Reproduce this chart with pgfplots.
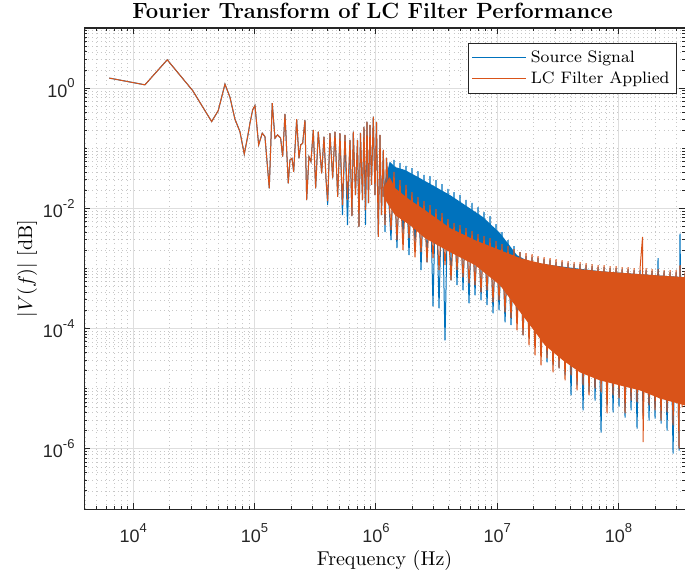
\documentclass[border=0pt]{standalone}
\usepackage{fontspec}
\usepackage{pgfplots}
\pgfplotsset{compat=1.18}
\newfontfamily\tickfont{Liberation Sans}
\definecolor{mblue}{RGB}{0,114,189}
\definecolor{morange}{RGB}{217,83,25}
\newcommand{\tp}[1]{10\raisebox{4.6pt}{\fontsize{6.5}{7}\selectfont #1}}
\begin{document}
\begin{tikzpicture}
\begin{axis}[
 xmode=log, ymode=log,
 scale only axis, width=300.5pt, height=240.5pt,
 xmin=3.93e3, xmax=3.53e8, ymin=1e-7, ymax=10,
 xtick={1e4,1e5,1e6,1e7,1e8},
 xticklabels={\tp{4},\tp{5},\tp{6},\tp{7},\tp{8}},
 ytick={1e-6,1e-4,1e-2,1},
 yticklabels={\tp{-6},\tp{-4},\tp{-2},\tp{0}},
 minor xtick={4e3,5e3,6e3,7e3,8e3,9e3,2e4,3e4,4e4,5e4,6e4,7e4,8e4,9e4,2e5,3e5,4e5,5e5,6e5,7e5,8e5,9e5,2e6,3e6,4e6,5e6,6e6,7e6,8e6,9e6,2e7,3e7,4e7,5e7,6e7,7e7,8e7,9e7,2e8,3e8},
 minor ytick={2e-7,3e-7,4e-7,5e-7,6e-7,7e-7,8e-7,9e-7,2e-6,3e-6,4e-6,5e-6,6e-6,7e-6,8e-6,9e-6,1e-5,2e-5,3e-5,4e-5,5e-5,6e-5,7e-5,8e-5,9e-5,2e-4,3e-4,4e-4,5e-4,6e-4,7e-4,8e-4,9e-4,1e-3,2e-3,3e-3,4e-3,5e-3,6e-3,7e-3,8e-3,9e-3,2e-2,3e-2,4e-2,5e-2,6e-2,7e-2,8e-2,9e-2,1e-1,2e-1,3e-1,4e-1,5e-1,6e-1,7e-1,8e-1,9e-1,2,3,4,5,6,7,8,9},
 grid=both,
 major grid style={black!13, line width=0.5pt},
 minor grid style={black!22, dash pattern=on 0.5pt off 1.6pt, line width=0.35pt},
 axis line style={black!85, line width=0.5pt},
 every tick/.style={black!85, line width=0.5pt},
 major tick length=3pt, minor tick length=1.6pt,
 tick align=inside,
 ticklabel style={font=\tickfont\fontsize{9}{11}\selectfont, text=black!85},
 xticklabel style={anchor=base, yshift=-16.5pt},
 yticklabel style={xshift=-1.2pt},
 title={Fourier Transform of LC Filter Performance},
 title style={at={(rel axis cs:0.48,1)}, anchor=base, yshift=-1.15pt, font=\bfseries\fontsize{11}{13}\selectfont},
 xlabel={Frequency (Hz)},
 xlabel style={at={(rel axis cs:0.5,0)}, anchor=base, yshift=-28.4pt, font=\normalsize},
 ylabel={$|V(f)|$ [dB]},
 ylabel style={at={(rel axis cs:-0.0948,0.5)}, anchor=center, font=\normalsize},
 legend cell align=left,
 legend style={at={(rel axis cs:1,1)}, anchor=north east, xshift=-4pt, yshift=-7.5pt, draw=black!85, line width=0.5pt, font=\fontsize{8.3}{10}\selectfont, inner sep=1.5pt, row sep=-1pt},
 legend image code/.code={\draw[#1] (0cm,0cm) -- (0.95cm,0cm);},
]
\coordinate (bbSW) at (rel axis cs:-0.13977,-0.14137);
\coordinate (bbNE) at (rel axis cs:1,1.05821);

% Source Signal: dense core band
\addplot[fill=mblue, draw=none, forget plot] coordinates {
(1.15e6,0.022)(1.30e6,0.06)(1.437e6,0.0488)(1.738e6,0.0435)(2.224e6,0.0332)(4.082e6,0.01666)(7.638e6,7.16e-3)(1.055e7,3.88e-3)(1.456e7,1.667e-3)(1.864e7,1.274e-3)(3.763e7,1.051e-3)(7.039e7,9.02e-4)(1.504e8,8.04e-4)(3.533e8,7.16e-4)
(3.533e8,5.5e-6)(2.199e8,7.2e-6)(1.504e8,9.8e-6)(1.029e8,1.2e-5)(7.039e7,1.45e-5)(4.815e7,1.95e-5)(3.487e7,3.1e-5)(2.477e7,5.5e-5)(1.864e7,1.2e-4)(1.402e7,2.55e-4)(1.055e7,5.5e-4)(6.561e6,1.2e-3)(4.082e6,1.95e-3)(2.540e6,3.3e-3)(1.910e6,5.4e-3)(1.437e6,7.9e-3)(1.30e6,0.011)(1.15e6,0.016)
};
% Source Signal
\addplot[mblue, line width=0.5pt] coordinates {
(6340,1.47)(12490,1.135)(19070,2.96)(30880,0.912)(44290,0.278)(50210,0.423)(57020,1.166)(62680,0.708)(68930,0.304)(75780,0.189)(82270,0.080)(87730,0.156)(91650,0.261)(96450,0.435)(100770,0.513)(108100,0.1135)(115700,0.178)(121800,0.156)(132200,0.0215)(139900,0.562)(147300,0.147)(155000,0.167)(164100,0.147)(170500,0.0724)(178100,0.373)(189600,0.0261)(195800,0.0638)(203400,0.0681)(210100,0.0407)(222400,0.304)(232300,0.0681)(239900,0.1135)(249200,0.121)(260300,0.296)(268900,0.01375)(280800,0.0724)(291700,0.0598)(304700,0.202)(318900,0.0215)(335100,0.189)(357400,0.0383)(373400,0.156)(387800,0.0316)(400500,0.01135)(418400,0.178)(440400,0.0316)(460100,0.189)(484300,0.0156)(505800,0.178)(530400,0.00773)(556300,0.167)(583300,0.00527)(611600,0.138)(635300,0.00744)(651100,0.189)(678900,0.01666)(705200,0.138)(725500,0.00493)(746500,0.180)(775300,0.01375)(797700,0.226)(820800,0.00527)(844500,0.278)(869000,0.01226)(894100,0.245)(920000,0.0245)(952000,0.336)(983100,0.01666)(1011400,0.274)(1046600,0.00336)(1081000,0.167)(1112000,0.00773)(1151000,0.0937)(1189000,0.00403)(1223000,0.0689)
(1.332e6,2.96e-3)(1.410e6,0.0638)(1.492e6,2.18e-3)(1.580e6,0.0569)(1.673e6,3.59e-3)(1.771e6,0.0507)(1.875e6,1.67e-3)(1.984e6,0.0469)(2.101e6,2.45e-3)(2.223e6,0.0418)(2.354e6,9.37e-4)(2.492e6,0.0359)(2.638e6,1.27e-3)(2.792e6,0.0345)(2.956e6,2.35e-4)(3.129e6,0.0296)(3.313e6,2.18e-4)(3.507e6,0.0254)(3.712e6,6.38e-5)(3.929e6,0.0210)(4.160e6,6.38e-4)(4.404e6,0.0187)(4.662e6,5.27e-4)(4.935e6,0.0167)(5.224e6,4.35e-4)(5.530e6,0.0138)(5.855e6,2.64e-4)(6.198e6,0.0123)(6.561e6,3.59e-4)(6.946e6,0.0105)(7.353e6,2.96e-4)(7.783e6,8.68e-3)(8.240e6,2.45e-4)(8.722e6,7.44e-3)(9.234e6,1.80e-4)(9.772e6,5.47e-3)(1.035e7,2.02e-4)(1.095e7,4.03e-3)(1.160e7,1.27e-4)(1.227e7,2.96e-3)(1.299e7,1.14e-4)(1.375e7,2.35e-3)(1.456e7,1.38e-4)(1.541e7,1.87e-3)(1.632e7,7.73e-5)(1.727e7,1.60e-3)(1.829e7,6.89e-5)(1.936e7,1.54e-3)(2.049e7,5.27e-5)(2.169e7,1.49e-3)(2.296e7,4.70e-5)(2.431e7,1.43e-3)(2.573e7,2.74e-5)(2.724e7,1.38e-3)(2.884e7,2.45e-5)(3.053e7,1.27e-3)(3.232e7,2.18e-5)(3.421e7,1.27e-3)(3.622e7,1.67e-5)(3.834e7,1.23e-3)(4.058e7,7.73e-6)(4.297e7,1.18e-3)(4.548e7,1.14e-5)(4.815e7,1.18e-3)(5.097e7,4.35e-6)(5.395e7,1.14e-3)(5.711e7,8.68e-6)(6.046e7,1.09e-3)(6.401e7,6.38e-6)(6.776e7,1.05e-3)(7.173e7,1.87e-6)(7.593e7,1.05e-3)(8.038e7,5.27e-6)(8.510e7,1.01e-3)(9.008e7,4.03e-6)(9.535e7,1.01e-3)(1.009e8,5.07e-6)(1.069e8,9.73e-4)(1.131e8,3.32e-6)(1.197e8,9.73e-4)(1.268e8,4.35e-6)(1.342e8,9.37e-4)(1.420e8,2.18e-6)(1.504e8,9.37e-4)(1.592e8,3.59e-6)(1.685e8,9.37e-4)(1.784e8,2.96e-6)(1.888e8,9.02e-4)(1.999e8,3.20e-6)(2.116e8,1.49e-3)(2.240e8,2.64e-6)(2.371e8,9.02e-4)(2.510e8,2.02e-6)(2.657e8,8.68e-4)(2.813e8,8.36e-7)(2.978e8,8.68e-4)(3.152e8,9.37e-7)(3.21e8,3.80e-3)(3.337e8,5.69e-6)(3.533e8,8.35e-4)
};
\addlegendentry{Source Signal}

% LC Filter Applied: dense core band
\addplot[fill=morange, draw=none, forget plot] coordinates {
(1.15e6,0.022)(1.30e6,0.033)(1.437e6,0.0218)(1.910e6,0.01375)(2.540e6,9.37e-3)(4.082e6,4.70e-3)(6.561e6,2.96e-3)(1.055e7,2.02e-3)(1.542e7,1.49e-3)(2.253e7,1.23e-3)(3.983e7,1.01e-3)(7.039e7,9.02e-4)(1.504e8,8.04e-4)(3.533e8,7.16e-4)
(3.533e8,5.27e-6)(2.199e8,6.89e-6)(1.504e8,9.37e-6)(1.029e8,1.135e-5)(7.039e7,1.375e-5)(4.815e7,1.87e-5)(3.487e7,2.96e-5)(2.477e7,5.27e-5)(1.864e7,1.14e-4)(1.402e7,2.45e-4)(1.055e7,5.27e-4)(6.561e6,1.14e-3)(4.082e6,1.87e-3)(2.540e6,3.20e-3)(1.910e6,5.27e-3)(1.437e6,7.73e-3)(1.30e6,0.0105)(1.15e6,0.016)
};
% LC Filter Applied
\addplot[morange, line width=0.5pt] coordinates {
(6340,1.47)(12490,1.135)(19070,2.96)(30880,0.912)(44290,0.278)(50210,0.423)(57020,1.166)(62680,0.708)(68930,0.304)(75780,0.189)(82270,0.080)(87730,0.156)(91650,0.261)(96450,0.435)(100770,0.513)(108100,0.1135)(115700,0.178)(121800,0.156)(132200,0.0215)(139900,0.562)(147300,0.147)(155000,0.167)(164100,0.147)(170500,0.0724)(178100,0.373)(189600,0.0261)(195800,0.0638)(203400,0.0681)(210100,0.0407)(222400,0.304)(232300,0.0681)(239900,0.1135)(249200,0.121)(260300,0.296)(268900,0.01375)(280800,0.0724)(291700,0.0598)(304700,0.202)(318900,0.0215)(335100,0.189)(357400,0.0383)(373400,0.156)(387800,0.0316)(400500,0.01323)(418400,0.178)(440400,0.0316)(460100,0.189)(484300,0.0156)(505800,0.178)(530400,0.01135)(556300,0.167)(583300,0.01375)(611600,0.138)(635300,0.00744)(651100,0.189)(678900,0.01666)(705200,0.138)(725500,0.00493)(746500,0.180)(775300,0.01375)(797700,0.226)(820800,0.00937)(844500,0.278)(869000,0.01226)(894100,0.245)(920000,0.0245)(952000,0.336)(983100,0.01666)(1011400,0.274)(1046600,0.00336)(1081000,0.167)(1112000,0.00773)(1151000,0.0937)(1189000,0.00527)(1223000,0.0689)
(1.332e6,4.35e-3)(1.410e6,0.0403)(1.492e6,2.96e-3)(1.580e6,0.0296)(1.673e6,2.02e-3)(1.771e6,0.0245)(1.875e6,3.20e-3)(1.984e6,0.0187)(2.101e6,1.54e-3)(2.223e6,0.0154)(2.354e6,1.87e-3)(2.492e6,0.0132)(2.638e6,1.27e-3)(2.792e6,0.01135)(2.956e6,1.49e-3)(3.129e6,9.73e-3)(3.313e6,9.37e-4)(3.507e6,8.35e-3)(3.712e6,1.14e-3)(3.929e6,6.63e-3)(4.160e6,6.38e-4)(4.404e6,5.69e-3)(4.662e6,9.37e-4)(4.935e6,5.27e-3)(5.224e6,7.16e-4)(5.530e6,4.70e-3)(5.855e6,5.69e-4)(6.198e6,4.18e-3)(6.561e6,5.27e-4)(6.946e6,3.73e-3)(7.353e6,4.03e-4)(7.783e6,3.45e-3)(8.240e6,4.35e-4)(8.722e6,3.20e-3)(9.234e6,2.74e-4)(9.772e6,2.85e-3)(1.035e7,2.96e-4)(1.095e7,2.54e-3)(1.160e7,1.87e-4)(1.227e7,2.35e-3)(1.299e7,1.49e-4)(1.375e7,2.10e-3)(1.456e7,9.37e-5)(1.541e7,1.87e-3)(1.632e7,7.73e-5)(1.727e7,1.80e-3)(1.829e7,5.27e-5)(1.936e7,1.73e-3)(2.049e7,3.59e-5)(2.169e7,1.60e-3)(2.296e7,2.45e-5)(2.431e7,1.54e-3)(2.573e7,3.20e-5)(2.724e7,1.49e-3)(2.884e7,1.87e-5)(3.053e7,1.43e-3)(3.232e7,2.18e-5)(3.421e7,1.375e-3)(3.622e7,1.375e-5)(3.834e7,1.32e-3)(4.058e7,1.67e-5)(4.297e7,1.27e-3)(4.548e7,9.37e-6)(4.815e7,1.27e-3)(5.097e7,1.135e-5)(5.395e7,1.23e-3)(5.711e7,7.73e-6)(6.046e7,1.18e-3)(6.401e7,1.01e-5)(6.776e7,1.14e-3)(7.173e7,8.68e-6)(7.593e7,1.14e-3)(8.038e7,3.88e-6)(8.510e7,1.09e-3)(9.008e7,7.73e-6)(9.535e7,1.09e-3)(1.009e8,6.89e-6)(1.069e8,1.05e-3)(1.131e8,3.88e-6)(1.197e8,1.05e-3)(1.268e8,6.38e-6)(1.342e8,1.01e-3)(1.420e8,5.91e-6)(1.504e8,1.01e-3)(1.577e8,3.36e-3)(1.592e8,1.29e-6)(1.685e8,1.01e-3)(1.784e8,5.27e-6)(1.888e8,9.73e-4)(1.999e8,4.35e-6)(2.116e8,9.73e-4)(2.240e8,2.96e-6)(2.371e8,9.37e-4)(2.510e8,4.03e-6)(2.657e8,9.37e-4)(2.813e8,2.45e-6)(2.978e8,9.37e-4)(3.152e8,1.01e-6)(3.21e8,1.14e-3)(3.337e8,4.88e-6)(3.533e8,9.02e-4)
};
\addlegendentry{LC Filter Applied}
\end{axis}
\pgfresetboundingbox
\path[use as bounding box] (bbSW) rectangle (bbNE);
\end{tikzpicture}
\end{document}
